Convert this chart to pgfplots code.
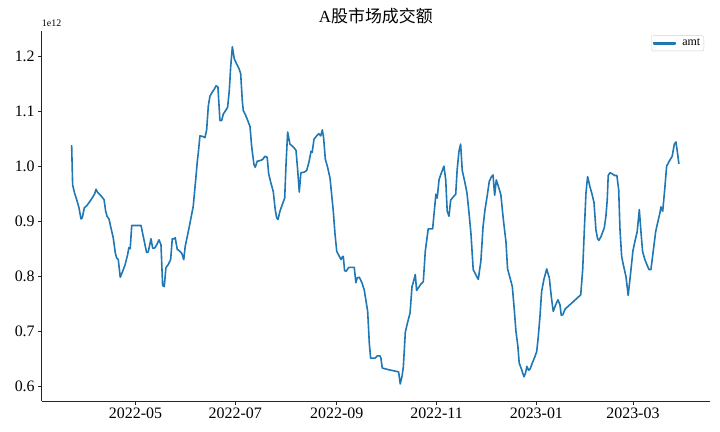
\documentclass[border=0pt]{standalone}
\usepackage{pgfplots}
\pgfplotsset{compat=1.18}
\usepackage{pgfplotstable}
\usepackage{fontspec}
\setmainfont{Liberation Serif}
\newfontfamily\cjk{Noto Sans CJK SC}
\definecolor{mplblue}{HTML}{1F77B4}

% x: day number counted from 2022-01-01 (day 0); y: amount in units of 1e12
\pgfplotstableread{
d v
81.0 1.039
81.6 0.967
82.8 0.952
84.1 0.940
85.5 0.925
86.7 0.905
87.5 0.907
88.7 0.925
90.2 0.929
92.2 0.937
94.2 0.946
95.1 0.951
95.9 0.959
96.9 0.953
98.7 0.948
100.8 0.940
101.8 0.919
102.6 0.910
103.8 0.905
105.0 0.889
106.4 0.871
107.7 0.843
108.5 0.834
109.5 0.831
110.7 0.799
112.2 0.810
113.6 0.821
115.2 0.840
116.0 0.853
116.8 0.851
117.7 0.893
123.4 0.893
125.2 0.867
126.8 0.844
127.8 0.845
129.5 0.869
130.5 0.852
131.7 0.852
133.0 0.858
134.4 0.867
135.6 0.858
136.6 0.784
137.6 0.782
138.6 0.816
140.0 0.822
141.5 0.831
142.5 0.869
143.7 0.869
144.3 0.871
145.5 0.850
147.2 0.846
148.4 0.842
149.5 0.831
150.4 0.855
152.9 0.891
155.3 0.928
156.8 0.976
157.8 1.010
158.4 1.025
159.4 1.056
161.1 1.055
162.5 1.053
163.5 1.067
164.5 1.110
165.5 1.128
166.8 1.135
168.2 1.141
169.2 1.147
170.4 1.145
171.6 1.084
172.7 1.084
173.7 1.096
175.1 1.102
176.3 1.108
177.3 1.137
178.2 1.182
179.2 1.218
180.4 1.196
181.8 1.187
183.3 1.178
184.3 1.169
185.3 1.119
185.9 1.102
187.1 1.095
188.6 1.084
190.0 1.073
191.0 1.037
192.4 1.004
193.2 0.999
194.4 1.010
196.1 1.011
197.7 1.013
199.1 1.019
200.5 1.017
201.4 0.987
202.8 0.970
204.2 0.955
205.4 0.922
206.3 0.907
207.1 0.904
208.3 0.919
209.7 0.931
211.2 0.943
212.0 1.004
213.0 1.063
214.4 1.041
216.1 1.037
218.1 1.030
219.1 0.995
220.1 0.954
221.1 0.989
223.0 0.990
224.6 0.993
226.0 1.008
227.3 1.028
228.0 1.026
229.1 1.050
230.7 1.056
232.0 1.060
233.2 1.056
234.2 1.067
235.0 1.052
236.0 1.014
237.5 0.998
238.9 0.979
240.1 0.943
240.9 0.919
241.9 0.879
243.0 0.846
244.4 0.838
245.6 0.831
246.4 0.836
247.0 0.837
247.8 0.811
248.8 0.810
250.3 0.817
253.7 0.817
254.7 0.789
255.5 0.798
256.8 0.799
258.4 0.789
259.8 0.776
261.9 0.737
262.9 0.679
263.7 0.652
266.4 0.652
267.8 0.656
269.4 0.656
270.0 0.652
270.8 0.634
274.5 0.631
280.8 0.627
281.8 0.605
282.9 0.619
283.7 0.636
284.9 0.699
286.3 0.717
287.8 0.734
289.0 0.782
289.8 0.790
291.0 0.804
291.8 0.775
293.4 0.782
294.5 0.787
295.9 0.791
297.1 0.846
298.9 0.887
301.6 0.887
302.8 0.925
303.6 0.950
304.4 0.943
305.5 0.976
306.5 0.985
307.5 0.993
308.5 1.001
309.6 0.976
310.5 0.919
311.6 0.910
312.6 0.939
314.2 0.945
315.7 0.950
316.6 0.995
317.7 1.028
318.7 1.041
319.7 0.993
321.2 0.973
322.6 0.952
323.8 0.917
325.0 0.879
326.4 0.813
327.9 0.804
329.5 0.795
331.1 0.829
332.4 0.891
333.6 0.922
335.0 0.948
336.2 0.973
337.4 0.981
338.5 0.985
339.5 0.948
340.5 0.976
341.7 0.965
343.3 0.949
344.8 0.904
346.4 0.864
347.4 0.814
348.8 0.799
350.3 0.782
351.5 0.740
352.5 0.701
353.7 0.673
354.5 0.643
356.0 0.631
357.4 0.618
358.4 0.625
359.2 0.637
360.3 0.630
361.3 0.633
362.5 0.643
363.9 0.653
365.2 0.664
366.1 0.689
367.2 0.728
368.2 0.773
369.6 0.795
371.3 0.814
372.9 0.798
374.1 0.764
375.3 0.737
376.8 0.749
378.2 0.758
379.4 0.749
380.2 0.730
381.2 0.731
382.5 0.741
392.1 0.767
393.3 0.813
394.3 0.885
395.3 0.952
396.3 0.982
397.7 0.964
399.1 0.949
400.2 0.935
401.4 0.885
402.4 0.869
403.2 0.866
404.5 0.873
405.5 0.881
406.5 0.889
407.5 0.910
408.3 0.940
408.9 0.984
410.0 0.989
411.4 0.987
412.8 0.984
414.2 0.984
415.3 0.958
416.1 0.885
417.1 0.837
418.1 0.822
419.7 0.801
421.1 0.766
422.6 0.807
424.0 0.847
425.2 0.864
426.6 0.882
427.9 0.922
428.9 0.882
429.9 0.846
431.3 0.831
432.8 0.820
433.8 0.813
435.0 0.813
436.4 0.846
437.9 0.882
439.1 0.898
440.5 0.916
441.1 0.927
442.2 0.919
443.4 0.958
444.6 1.001
446.2 1.010
448.0 1.019
449.3 1.041
450.3 1.045
451.1 1.028
452.1 1.005
}\amt

\begin{document}
\begin{tikzpicture}
\path[use as bounding box] (0,0) rectangle (720bp,432bp);
\begin{axis}[
  at={(41.7bp,31bp)}, anchor=south west,
  width=668.3bp, height=370bp, scale only axis,
  xmin=62.7, xmax=471.1, ymin=0.574, ymax=1.2467,
  axis x line*=bottom, axis y line*=left,
  axis line style={-, line width=0.8bp, black!85},
  tick style={black!85, line width=0.8bp},
  tick align=outside, major tick length=3.5bp,
  xtick={120,181,243,304,365,424},
  xticklabels={2022-05,2022-07,2022-09,2022-11,2023-01,2023-03},
  ytick={0.6,0.7,0.8,0.9,1.0,1.1,1.2},
  yticklabels={0.6,0.7,0.8,0.9,1.0,1.1,1.2},
  ticklabel style={font=\fontsize{16}{18}\selectfont},
  title={A{\cjk 股市场成交额}},
  title style={font=\fontsize{17}{20}\selectfont, yshift=-2bp},
  legend style={at={(rel axis cs:1,1)}, anchor=north east, xshift=-6bp, yshift=-4.5bp,
    draw=black!18, rounded corners=2bp, fill=white,
    font=\fontsize{12}{14}\selectfont, inner sep=2bp, column sep=5bp,
    nodes={inner sep=1.5bp}},
  legend cell align=left,
  clip=false,
]
\addplot[mplblue, line width=1.6bp, line join=round,
  legend image code/.code={\fill[mplblue, sharp corners] (0bp,-0.85bp) rectangle (21bp,0.85bp);}]
  table[x=d, y=v] {\amt};
\addlegendentry{amt}
\node[anchor=south west, inner sep=0pt, font=\fontsize{10}{12}\selectfont] at (rel axis cs:0,1) [yshift=4bp] {1e12};
\end{axis}
\end{tikzpicture}
\end{document}
